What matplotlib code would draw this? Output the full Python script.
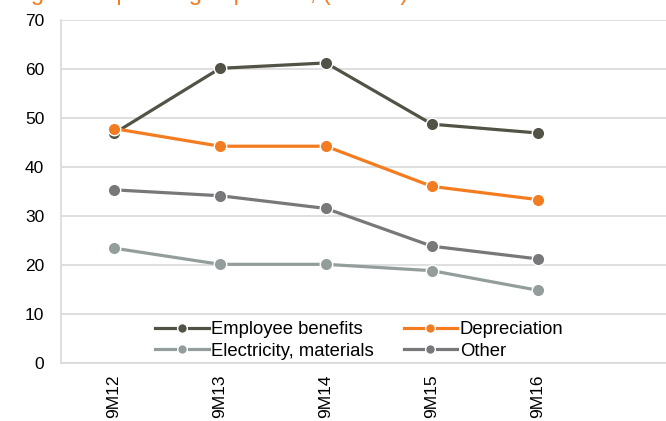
import matplotlib
matplotlib.use("Agg")
import matplotlib.pyplot as plt

plt.rcParams['font.family'] = ['Liberation Sans', 'DejaVu Sans']

categories = ["9M12", "9M13", "9M14", "9M15", "9M16"]
employee = [46.9, 60.2, 61.3, 48.8, 47.0]
depreciation = [47.9, 44.3, 44.3, 36.1, 33.4]
electricity = [23.5, 20.2, 20.2, 18.9, 14.9]
other = [35.4, 34.2, 31.6, 23.9, 21.3]
yticks = [0, 10, 20, 30, 40, 50, 60, 70]
title = "Segment operating expenses, (EURm)"

fig = plt.figure(figsize=(6.66, 4.21), dpi=100)
W, H = 666, 421
ax = fig.add_axes([61 / W, 1 - 363.3 / H, (666 - 61) / W, (363.3 - 20.3) / H])

x = list(range(len(categories)))
series = [
    ("Employee benefits", employee, "#525247"),
    ("Depreciation", depreciation, "#f47c20"),
    ("Electricity, materials", electricity, "#939e9c"),
    ("Other", other, "#78787a"),
]
order_draw = [0, 3, 2, 1]
lines = {}
for i in order_draw:
    name, vals, c = series[i]
    ln, = ax.plot(x, vals, color=c, lw=2.3, marker='o', markersize=9,
                  markeredgecolor='white', markeredgewidth=1.0, label=name,
                  zorder=3 + (i == 1))
    lines[i] = ln

ax.set_ylim(0, 70)
ax.set_yticks(yticks)
ax.set_xlim(-0.5, (666 - 114) / 106)
ax.set_xticks(x)
ax.set_xticklabels(categories, rotation=90, fontsize=12.5)
ax.tick_params(axis='both', length=0, labelsize=12.5, colors='black')
ax.tick_params(axis='x', pad=8)
ax.tick_params(axis='y', pad=12)
ax.grid(axis='y', color='#d9d9d9', lw=1.2)
ax.set_axisbelow(True)
for s in ['top', 'right']:
    ax.spines[s].set_visible(False)
for s in ['left', 'bottom']:
    ax.spines[s].set_color('#d9d9d9')
    ax.spines[s].set_linewidth(1.2)

# row-major legend order: Employee, Depreciation / Electricity, Other
leg_order = [0, 2, 1, 3]
leg = ax.legend([lines[i] for i in leg_order], [series[i][0] for i in leg_order],
                ncol=2, loc='upper left',
                bbox_to_anchor=((155 - 61) / 605, (363.3 - 321) / 343), frameon=False,
                fontsize=13.3, handlelength=2.9, handletextpad=0.15, columnspacing=1.6,
                labelspacing=0.25, borderpad=0, borderaxespad=0)
for h in leg.legend_handles:
    h.set_markersize(7)

fig.text(2 / W, 1.0, title, color='#f47c20', fontsize=17, va='baseline', ha='left')

fig.savefig("out.png", dpi=100)
